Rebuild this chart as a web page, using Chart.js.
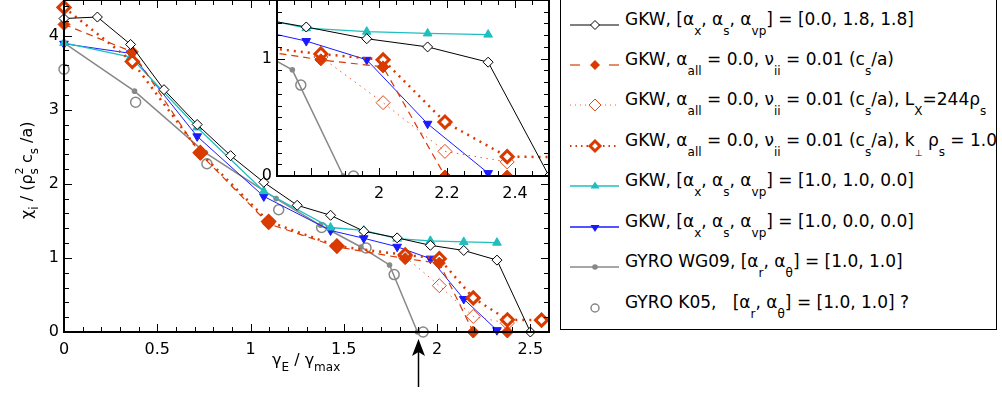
<!DOCTYPE html>
<html lang="en">
  <head>
    <meta charset="UTF-8" />
    <title>Ion heat diffusivity versus shearing rate</title>
    <script src="https://cdn.jsdelivr.net/npm/chart.js"></script>
    <style>
      body { margin: 0; background: #fff; }
      #page {
        position: relative; width: 1002px; height: 394px; overflow: hidden;
        font-family: "DejaVu Sans", sans-serif; color: #000;
      }
      #mainChart { position: absolute; left: 0; top: 0; }
      #insetChart { position: absolute; left: 240px; top: 0; }
      .title { position: absolute; font-size: 16px; line-height: 18px; white-space: nowrap; }
      .title sub { font-size: 12px; vertical-align: baseline; position: relative; top: 6px; }
      .title sup { font-size: 11px; vertical-align: baseline; position: relative; top: -9px; }
      .title sub.back { margin-left: -7px; }
      #yTitle { left: 18px; top: 219px; transform-origin: 0 0; transform: rotate(-90deg); }
      #xTitle { left: 272px; top: 351px; }
      #legend {
        position: absolute; left: 560px; top: -2px; width: 435px; height: 330px;
        border: 1.5px solid #000; background: #fff;
      }
      .row { position: absolute; left: 0; height: 20px; }
      .row svg { position: absolute; left: 4px; top: 0; }
      .row span {
        position: absolute; left: 64px; top: -6px; font-size: 17px; line-height: 20px;
        white-space: pre;
      }
      .row sub { font-size: 12px; vertical-align: baseline; position: relative; top: 10px; }
      .row sub.perp { font-size: 9px; }
    </style>
  </head>
  <body>
    <div id="page">
      <canvas id="mainChart" width="560" height="394"></canvas>
      <canvas id="insetChart" width="320" height="210"></canvas>
      <div id="yTitle" class="title">χ<sub>i</sub> / (ρ<sup>2</sup><sub class="back">s</sub> c<sub>s</sub> /a)</div>
      <div id="xTitle" class="title">γ<sub>E</sub> / γ<sub>max</sub></div>

      <div id="legend">
        <div class="row" style="top: 16px">
          <svg width="60" height="20"><line x1="5" y1="10" x2="54" y2="10" stroke="#000" stroke-width="1"/><path d="M25.5 10L30 5.5L34.5 10L30 14.5Z" fill="#fff" stroke="#000"/></svg>
          <span>GKW, [α<sub>x</sub>, α<sub>s</sub>, α<sub>vp</sub>] = [0.0, 1.8, 1.8]</span>
        </div>
        <div class="row" style="top: 56px">
          <svg width="60" height="20"><line x1="5" y1="10" x2="15" y2="10" stroke="#d83a00" stroke-width="1.2"/><line x1="44" y1="10" x2="54" y2="10" stroke="#d83a00" stroke-width="1.2"/><path d="M25 10L30 5L35 10L30 15Z" fill="#d83a00"/></svg>
          <span>GKW, α<sub>all</sub> = 0.0, ν<sub>ii</sub> = 0.01 (c<sub>s</sub>/a)</span>
        </div>
        <div class="row" style="top: 96px">
          <svg width="60" height="20"><line x1="5" y1="10" x2="54" y2="10" stroke="#e8603a" stroke-width="1" stroke-dasharray="1 4"/><path d="M24 10L30 4L36 10L30 16Z" fill="#fff" stroke="#e04a20"/></svg>
          <span>GKW, α<sub>all</sub> = 0.0, ν<sub>ii</sub> = 0.01 (c<sub>s</sub>/a), L<sub>X</sub>=244ρ<sub>s</sub></span>
        </div>
        <div class="row" style="top: 137px">
          <svg width="60" height="20"><line x1="5" y1="10" x2="54" y2="10" stroke="#d83a00" stroke-width="2" stroke-dasharray="1.5 4"/><path d="M25 10L30 5L35 10L30 15Z" fill="#fff" stroke="#d83a00" stroke-width="3"/></svg>
          <span>GKW, α<sub>all</sub> = 0.0, ν<sub>ii</sub> = 0.01 (c<sub>s</sub>/a), k<sub class="perp">⊥</sub> ρ<sub>s</sub> = 1.0</span>
        </div>
        <div class="row" style="top: 177px">
          <svg width="60" height="20"><line x1="5" y1="10" x2="54" y2="10" stroke="#1fbfbf" stroke-width="1.3"/><path d="M25.5 12.5L30 5.5L34.5 12.5Z" fill="#1fbfbf"/></svg>
          <span>GKW, [α<sub>x</sub>, α<sub>s</sub>, α<sub>vp</sub>] = [1.0, 1.0, 0.0]</span>
        </div>
        <div class="row" style="top: 218px">
          <svg width="60" height="20"><line x1="5" y1="10" x2="54" y2="10" stroke="#1a1aff" stroke-width="1.3"/><path d="M25.5 8L30 15L34.5 8Z" fill="#1a1aff"/></svg>
          <span>GKW, [α<sub>x</sub>, α<sub>s</sub>, α<sub>vp</sub>] = [1.0, 0.0, 0.0]</span>
        </div>
        <div class="row" style="top: 258px">
          <svg width="60" height="20"><line x1="5" y1="10" x2="54" y2="10" stroke="#888" stroke-width="1.5"/><circle cx="30" cy="10" r="2.8" fill="#888"/></svg>
          <span>GYRO WG09, [α<sub>r</sub>, α<sub>θ</sub>] = [1.0, 1.0]</span>
        </div>
        <div class="row" style="top: 299px">
          <svg width="60" height="20"><circle cx="30" cy="10" r="4" fill="none" stroke="#888" stroke-width="1.5"/></svg>
          <span>GYRO K05,   [α<sub>r</sub>, α<sub>θ</sub>] = [1.0, 1.0] ?</span>
        </div>
      </div>
    </div>

    <script>
      // Axis ticks
      const mainXTicks = [0, 0.5, 1, 1.5, 2, 2.5];
      const mainYTicks = [0, 1, 2, 3, 4];
      const insetXTicks = [2, 2.2, 2.4];
      const insetYTicks = [0, 1];
      // where the GYRO runs reach zero flux
      const arrowAt = 1.9;

      // GKW, [ax, as, avp] = [0.0, 1.8, 1.8]
      const gkw018X = [0, 0.179, 0.357, 0.536, 0.714, 0.893, 1.071, 1.25, 1.429, 1.607, 1.786, 1.964, 2.143, 2.321, 2.5];
      const gkw018Chi = [4.23, 4.25, 3.88, 3.27, 2.8, 2.38, 2.02, 1.71, 1.575, 1.36, 1.27, 1.17, 1.1, 0.97, 0];

      // GKW, a_all = 0, nu_ii = 0.01
      const collX = [0, 0.366, 0.731, 1.097, 1.463, 1.829, 2.012, 2.194, 2.377];
      const collChi = [4.15, 3.78, 2.4, 1.46, 1.15, 0.99, 0.93, 0, 0];

      // same, larger box L_X = 244 rho_s
      const collLxX = [1.829, 2.012, 2.194, 2.377];
      const collLxChi = [1.015, 0.625, 0.21, 0.12];

      // same, k_perp rho_s = 1.0
      const collKX = [0, 0.366, 0.731, 1.097, 1.463, 1.829, 2.012, 2.194, 2.377, 2.56];
      const collKChi = [4.38, 3.65, 2.42, 1.49, 1.16, 1.04, 0.99, 0.46, 0.165, 0.16];

      // GKW, [ax, as, avp] = [1.0, 1.0, 0.0]
      const gkw110X = [0, 0.357, 0.714, 1.071, 1.429, 1.607, 1.786, 1.964, 2.143, 2.321];
      const gkw110Chi = [3.9, 3.71, 2.76, 1.9, 1.41, 1.37, 1.26, 1.23, 1.215, 1.205];

      // GKW, [ax, as, avp] = [1.0, 0.0, 0.0]
      const gkw100X = [0, 0.357, 0.714, 1.071, 1.429, 1.607, 1.786, 1.964, 2.143, 2.321];
      const gkw100Chi = [3.89, 3.76, 2.64, 1.83, 1.37, 1.265, 1.15, 0.99, 0.445, 0.025];

      // GYRO WG09
      const wg09X = [0, 0.378, 0.757, 1.137, 1.375, 1.592, 1.745, 1.895];
      const wg09Chi = [3.9, 3.25, 2.42, 1.8, 1.44, 1.147, 0.905, 0];

      // GYRO K05
      const k05X = [0, 0.384, 0.766, 1.151, 1.381, 1.619, 1.77, 1.925];
      const k05Chi = [3.545, 3.1, 2.27, 1.65, 1.41, 1.135, 0.775, 0];

      const RED = "#d83a00";
      const FONT = "'DejaVu Sans', sans-serif";

      function pts(xs, ys) {
        return xs.map((x, i) => ({ x: x, y: ys[i] }));
      }

      // the same runs go into the main plot and the zoomed inset
      function makeDatasets(clip) {
        const base = { showLine: true, clip: clip, tension: 0, pointHoverRadius: 0 };
        return [
          { ...base, data: pts(gkw018X, gkw018Chi), borderColor: "#000", borderWidth: 1,
            pointStyle: "rectRot", pointRadius: 5, pointBackgroundColor: "#fff",
            pointBorderColor: "#000", pointBorderWidth: 1 },
          { ...base, data: pts(collX, collChi), borderColor: RED, borderWidth: 1.2, borderDash: [7, 5],
            pointStyle: "rectRot", pointRadius: 6, pointBackgroundColor: RED,
            pointBorderColor: RED, pointBorderWidth: 1 },
          { ...base, data: pts(collKX, collKChi), borderColor: RED, borderWidth: 2.5, borderDash: [2, 5],
            pointStyle: "rectRot", pointRadius: 6, pointBackgroundColor: "#fff",
            pointBorderColor: RED, pointBorderWidth: 3 },
          { ...base, data: pts(collLxX, collLxChi), borderColor: "#e8603a", borderWidth: 1, borderDash: [1.5, 4.5],
            pointStyle: "rectRot", pointRadius: 7, pointBackgroundColor: "rgba(255,255,255,0)",
            pointBorderColor: "#e04a20", pointBorderWidth: 1 },
          { ...base, data: pts(gkw110X, gkw110Chi), borderColor: "#1fbfbf", borderWidth: 1.3,
            pointStyle: "triangle", pointRadius: 5, pointBackgroundColor: "#1fbfbf",
            pointBorderColor: "#1fbfbf", pointBorderWidth: 1 },
          { ...base, data: pts(gkw100X, gkw100Chi), borderColor: "#1a1aff", borderWidth: 1,
            pointStyle: "triangle", pointRotation: 180, pointRadius: 5, pointBackgroundColor: "#1a1aff",
            pointBorderColor: "#1a1aff", pointBorderWidth: 1 },
          { ...base, data: pts(wg09X, wg09Chi), borderColor: "#888", borderWidth: 1.5,
            pointStyle: "circle", pointRadius: 2.8, pointBackgroundColor: "#888",
            pointBorderColor: "#888", pointBorderWidth: 0 },
          { ...base, showLine: false, data: pts(k05X, k05Chi),
            pointStyle: "circle", pointRadius: 5, pointBackgroundColor: "rgba(255,255,255,0)",
            pointBorderColor: "#888", pointBorderWidth: 1.5 },
        ];
      }

      // box round the plot area and inward tick marks on all four sides
      const frameTicks = {
        id: "frameTicks",
        beforeDraw(chart, args, opts) {
          if (!opts.fill) return;
          const a = chart.chartArea;
          chart.ctx.save();
          chart.ctx.fillStyle = opts.fill;
          chart.ctx.fillRect(a.left, a.top, a.right - a.left, a.bottom - a.top);
          chart.ctx.restore();
        },
        afterDatasetsDraw(chart, args, opts) {
          const { ctx, chartArea: a } = chart;
          const xs = chart.scales.x;
          const ys = chart.scales.y;
          ctx.save();
          ctx.strokeStyle = "#000";
          ctx.lineWidth = 1;
          ctx.beginPath();
          const marks = (scale, step, len, horiz) => {
            const n0 = Math.ceil(scale.min / step - 1e-6);
            const n1 = Math.floor(scale.max / step + 1e-6);
            for (let n = n0; n <= n1; n++) {
              const p = Math.round(scale.getPixelForValue(n * step)) + 0.5;
              if (horiz) {
                ctx.moveTo(p, a.bottom); ctx.lineTo(p, a.bottom - len);
                ctx.moveTo(p, a.top); ctx.lineTo(p, a.top + len);
              } else {
                ctx.moveTo(a.left, p); ctx.lineTo(a.left + len, p);
                ctx.moveTo(a.right, p); ctx.lineTo(a.right - len, p);
              }
            }
          };
          marks(xs, opts.xMinor, 5, true);
          marks(xs, opts.xMajor, 8, true);
          marks(ys, opts.yMinor, 5, false);
          marks(ys, opts.yMajor, 8, false);
          ctx.stroke();
          ctx.lineWidth = opts.frame;
          ctx.strokeRect(a.left, a.top, a.right - a.left, a.bottom - a.top);
          ctx.restore();
        },
      };

      const shearArrow = {
        id: "shearArrow",
        afterDraw(chart) {
          const ctx = chart.ctx;
          const x = Math.round(chart.scales.x.getPixelForValue(arrowAt)) + 0.5;
          const tip = chart.chartArea.bottom + 7;
          ctx.save();
          ctx.strokeStyle = "#000";
          ctx.fillStyle = "#000";
          ctx.lineWidth = 1.5;
          ctx.beginPath();
          ctx.moveTo(x, tip + 12);
          ctx.lineTo(x, tip + 48);
          ctx.stroke();
          ctx.beginPath();
          ctx.moveTo(x, tip);
          ctx.lineTo(x - 6.5, tip + 17);
          ctx.lineTo(x, tip + 13);
          ctx.lineTo(x + 6.5, tip + 17);
          ctx.closePath();
          ctx.fill();
          ctx.restore();
        },
      };

      function fmt(v) {
        return String(Math.round(v * 10) / 10);
      }

      // fixed axis sizes so the plot box lands where it should
      function axis(min, max, ticks, pad, fit) {
        return {
          type: "linear",
          min: min,
          max: max,
          grid: { display: false, drawTicks: false },
          border: { display: false },
          afterBuildTicks: (s) => { s.ticks = ticks.map((v) => ({ value: v })); },
          afterFit: (s) => {
            fit(s);
            s.paddingTop = 0;
            s.paddingBottom = 0;
            s.paddingLeft = 0;
            s.paddingRight = 0;
          },
          ticks: {
            padding: pad,
            color: "#000",
            font: { family: FONT, size: 16 },
            maxRotation: 0,
            autoSkip: false,
            callback: fmt,
          },
        };
      }

      Chart.defaults.animation = false;

      new Chart(document.getElementById("mainChart"), {
        type: "scatter",
        data: { datasets: makeDatasets(false) },
        options: {
          responsive: false,
          devicePixelRatio: 1,
          events: [],
          layout: { autoPadding: false, padding: { left: 0, right: 11, top: 0, bottom: 0 } },
          plugins: {
            legend: { display: false },
            tooltip: { enabled: false },
            frameTicks: { xMajor: 0.5, xMinor: 0.1, yMajor: 1, yMinor: 0.2, frame: 2 },
          },
          scales: {
            x: axis(0, 2.6, mainXTicks, 8, (s) => { s.height = 62; }),
            y: axis(0, 4.48, mainYTicks, 5, (s) => { s.width = 64; }),
          },
        },
        plugins: [frameTicks, shearArrow],
      });

      new Chart(document.getElementById("insetChart"), {
        type: "scatter",
        data: { datasets: makeDatasets(undefined) },
        options: {
          responsive: false,
          devicePixelRatio: 1,
          events: [],
          layout: { autoPadding: false, padding: { left: 0, right: 11, top: 0, bottom: 0 } },
          plugins: {
            legend: { display: false },
            tooltip: { enabled: false },
            frameTicks: { xMajor: 0.2, xMinor: 0.05, yMajor: 1, yMinor: 0.1, frame: 2, fill: "#fff" },
          },
          scales: {
            x: axis(1.7, 2.5, insetXTicks, 8, (s) => { s.height = 34; }),
            y: axis(0, 1.5, insetYTicks, 5, (s) => { s.width = 37; }),
          },
        },
        plugins: [frameTicks],
      });
    </script>
  </body>
</html>
